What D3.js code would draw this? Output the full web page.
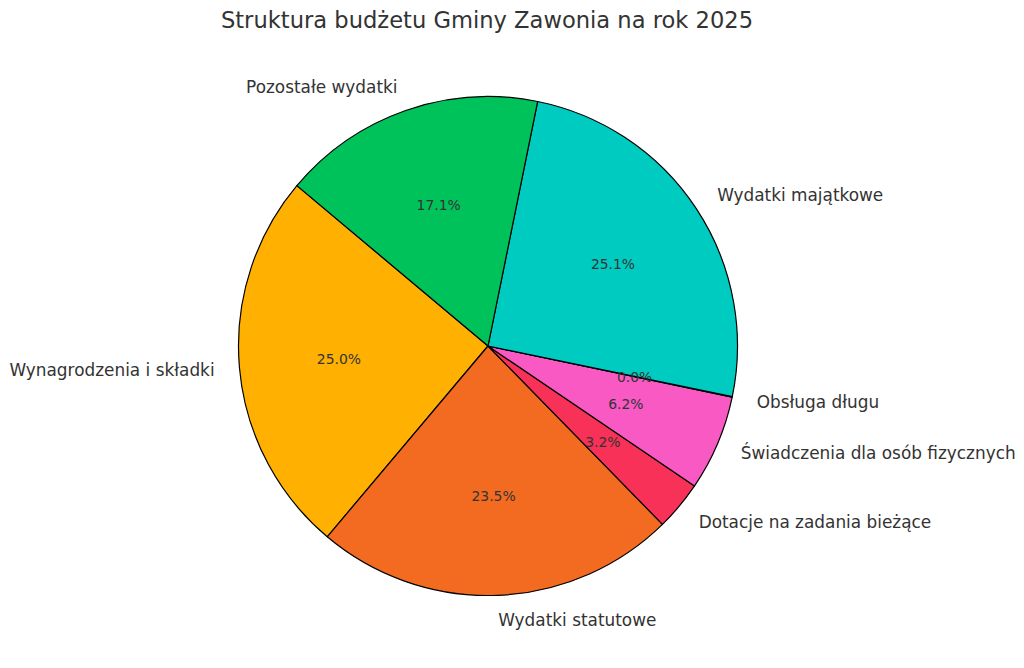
<!DOCTYPE html>
<html><head><meta charset="utf-8">
<script src="https://cdn.jsdelivr.net/npm/d3@7"></script>
<style>body{margin:0;background:#fff;} text{font-family:"DejaVu Sans",sans-serif;}</style>
</head><body>
<svg id="c" width="1024" height="668"></svg>
<script>
const categories = ["Wynagrodzenia i składki","Wydatki statutowe","Dotacje na zadania bieżące","Świadczenia dla osób fizycznych","Obsługa długu","Wydatki majątkowe","Pozostałe wydatki"];
const values = [25.0, 23.5, 3.2, 6.2, 0.03, 25.1, 17.1];
const colors = ["#FFB000","#F26B21","#F73157","#F859C3","#8A2BE2","#00CBC0","#00C25A"];
const title = "Struktura budżetu Gminy Zawonia na rok 2025";

const svg = d3.select("#c");
const cx = 488, cy = 346, R = 249.5;
const deg = Math.PI/180;
const pie = d3.pie().sort(null).startAngle(-50*deg).endAngle(-410*deg);
const arcs = pie(values);
const total = d3.sum(values);
const g = svg.append("g").attr("transform",`translate(${cx},${cy})`);
const arc = d3.arc().innerRadius(0).outerRadius(R);
g.selectAll("path").data(arcs).join("path")
  .attr("d",arc).attr("fill",(d,i)=>colors[i])
  .attr("stroke","#000").attr("stroke-width",1.2).attr("stroke-linejoin","round");
const labArc = d3.arc().innerRadius(R*1.1).outerRadius(R*1.1);
const pctArc = d3.arc().innerRadius(R*0.6).outerRadius(R*0.6);
g.selectAll("text.lab").data(arcs).join("text").attr("class","lab")
  .each(function(d,i){
    const [x,y]=labArc.centroid(d);
    d3.select(this).attr("x",x).attr("y",y)
      .attr("text-anchor", x>=0?"start":"end")
      .attr("dominant-baseline","central")
      .attr("font-size","16.9px").attr("fill","#333333")
      .text(categories[i]);
  });
g.selectAll("text.pct").data(arcs).join("text").attr("class","pct")
  .each(function(d,i){
    const [x,y]=pctArc.centroid(d);
    d3.select(this).attr("x",x).attr("y",y)
      .attr("text-anchor","middle")
      .attr("dominant-baseline","central")
      .attr("font-size","13.9px").attr("fill","#333333")
      .text((values[i]/total*100).toFixed(1)+"%");
  });
svg.append("text").attr("x",487).attr("y",20).attr("text-anchor","middle")
  .attr("dominant-baseline","central").attr("font-size","22.6px").attr("fill","#333333").text(title);
</script>
</body></html>
